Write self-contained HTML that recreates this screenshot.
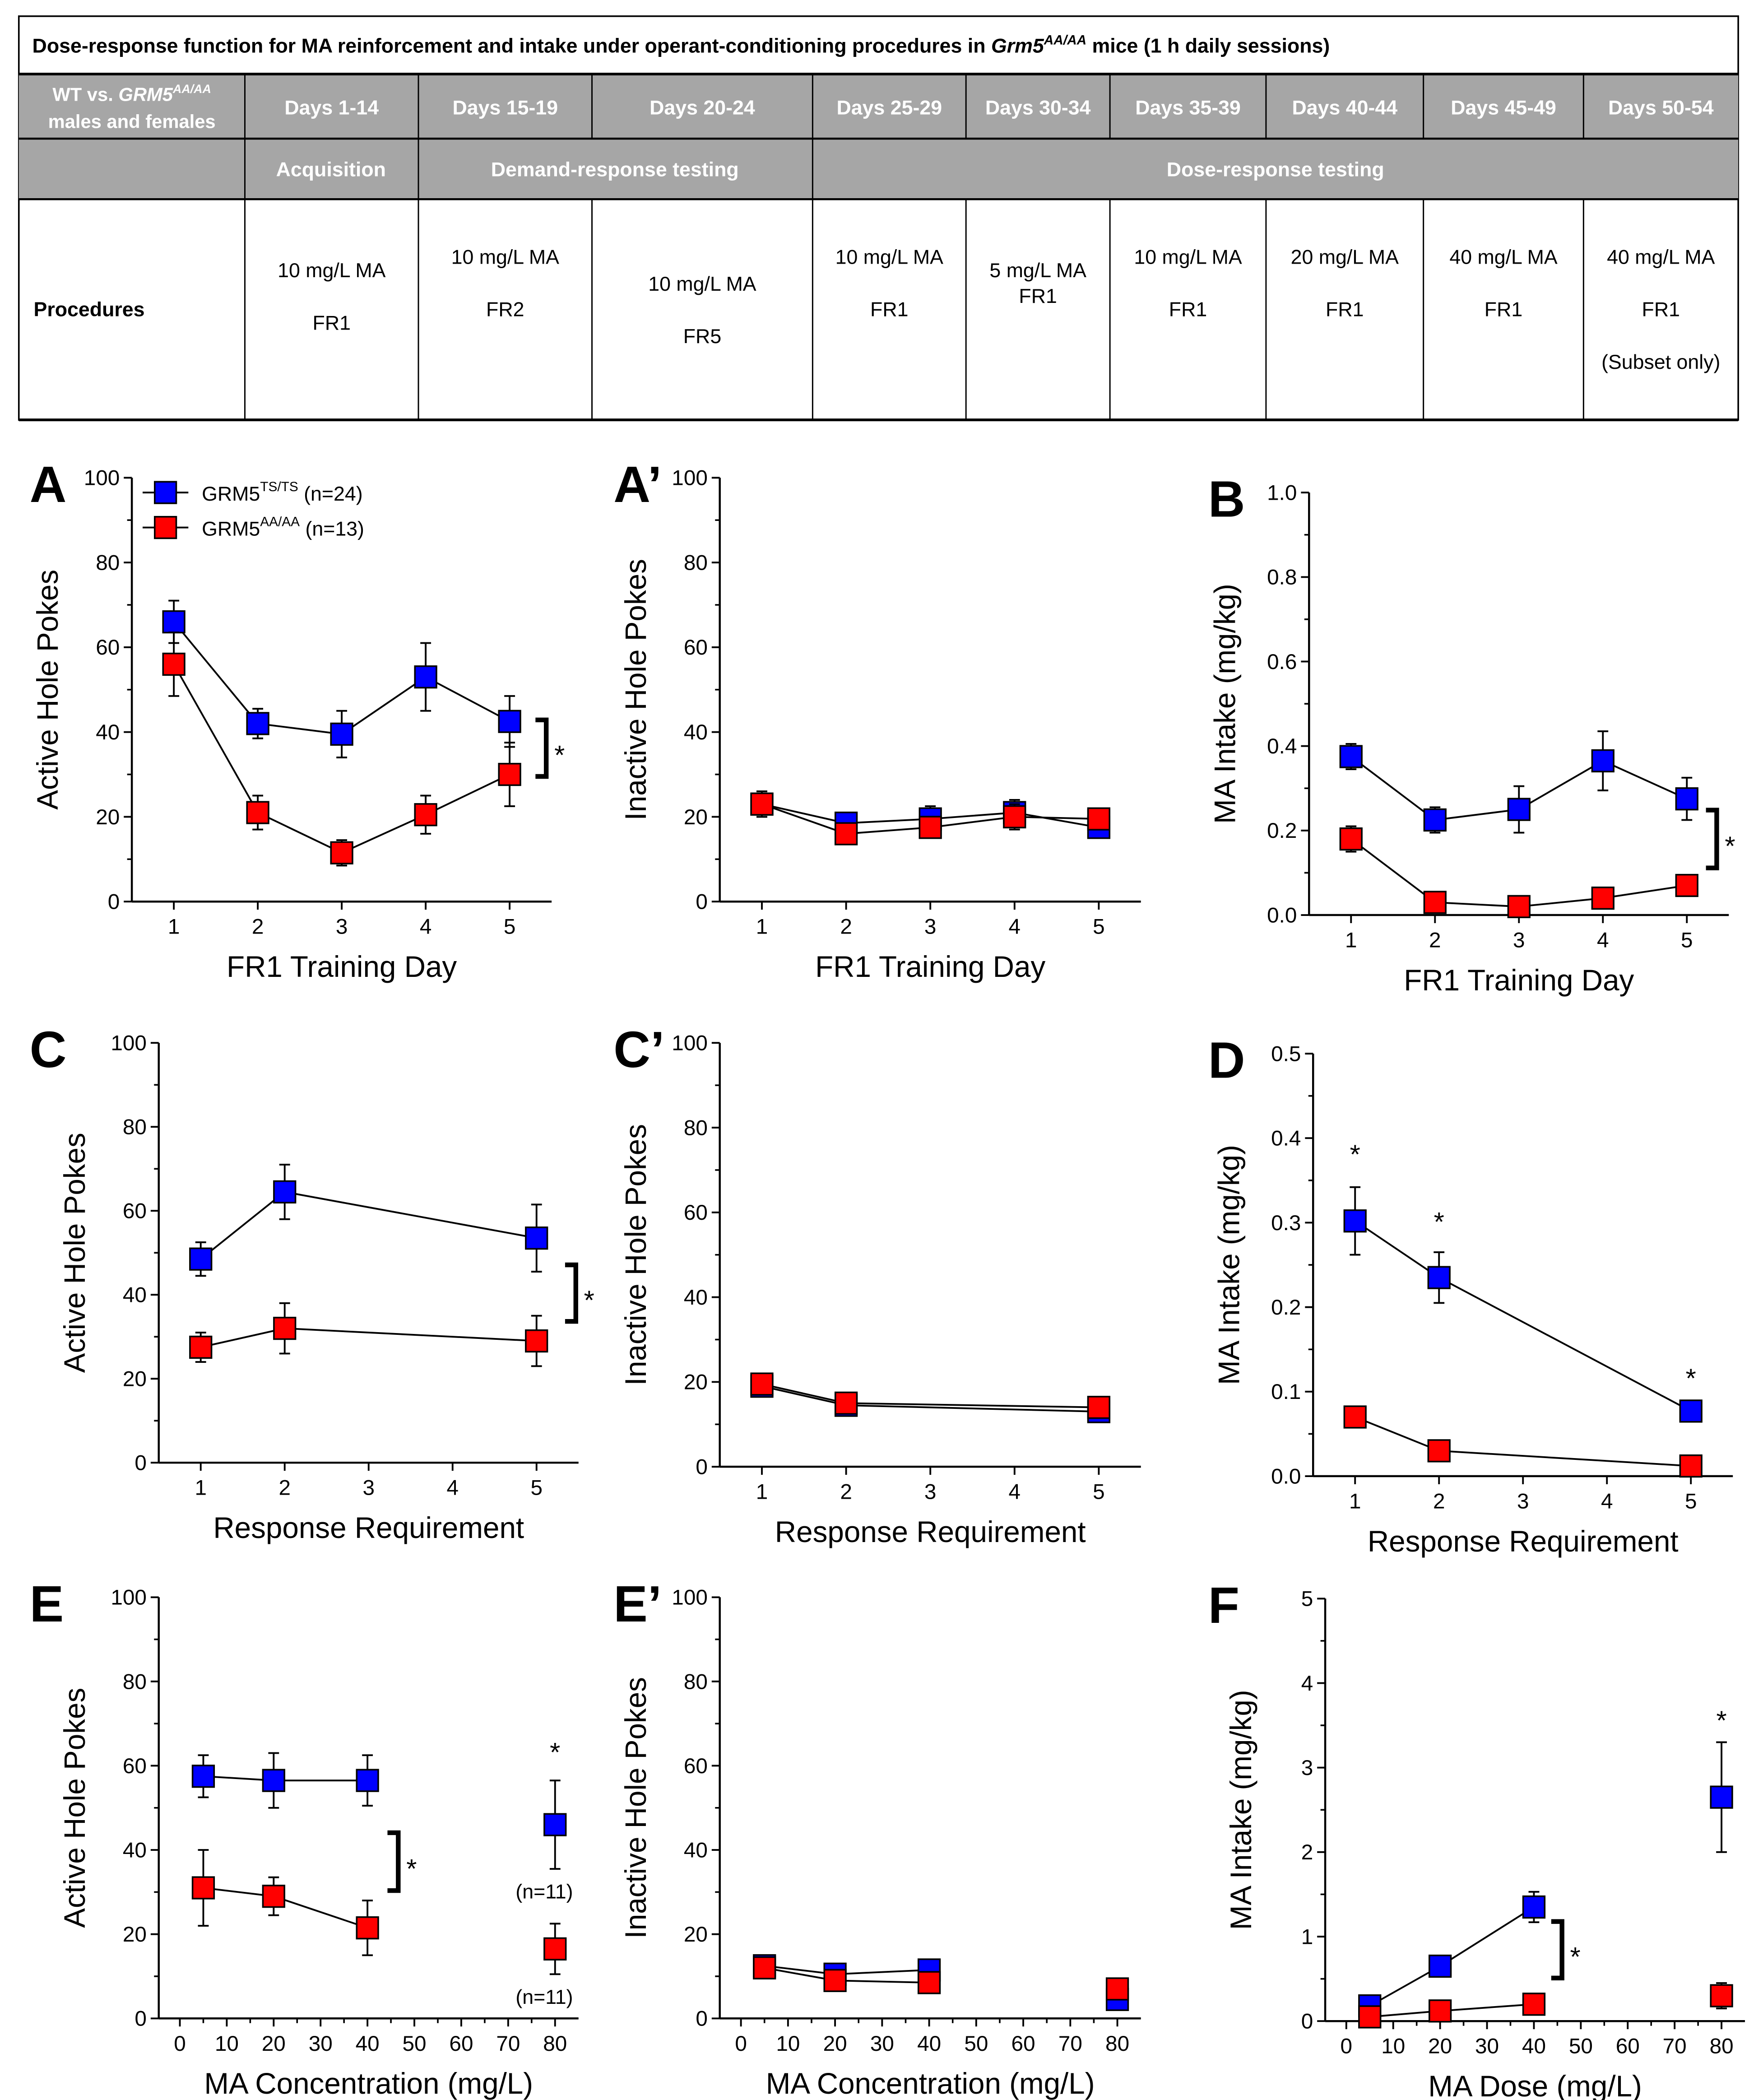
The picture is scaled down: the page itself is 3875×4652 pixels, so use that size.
<!DOCTYPE html>
<html><head><meta charset="utf-8"><style>
html,body{margin:0;padding:0;background:#fff}
svg{display:block}
text{font-family:"Liberation Sans",Arial,sans-serif}
</style></head><body>
<svg id="root" width="3875" height="4652" viewBox="0 0 1300 1560.6" xmlns="http://www.w3.org/2000/svg">
<g id="table"></g>
<g id="charts"></g>
</svg>
<script>
// ---- Data ----
const daysX = [1,2,3,4,5];
const A_blue = [66,42,39.5,53,42.5];
const A_blueErr = [5,3.5,5.5,8,6];
const A_red = [56,21,11.5,20.5,30];
const A_redErr = [7.5,4,3,4.5,7.5];
const Ap_blue = [23,18.5,19.5,21,17.5];
const Ap_blueErr = [3,2,3,3,2.5];
const Ap_red = [23,16,17.5,20,19.5];
const Ap_redErr = [3,2,2,3,2.5];
const B_blue = [0.375,0.225,0.25,0.365,0.275];
const B_blueErr = [0.03,0.03,0.055,0.07,0.05];
const B_red = [0.18,0.03,0.02,0.04,0.07];
const B_redErr = [0.03,0.02,0.02,0.02,0.025];
const reqX = [1,2,5];
const C_blue = [48.5,64.5,53.5];
const C_blueErr = [4,6.5,8];
const C_red = [27.5,32,29];
const C_redErr = [3.5,6,6];
const Cp_blue = [19,14.5,13];
const Cp_blueErr = [2,1.5,1.5];
const Cp_red = [19.5,15,14];
const Cp_redErr = [2,2,2];
const D_blue = [0.302,0.235,0.077];
const D_blueErr = [0.04,0.03,0.01];
const D_red = [0.07,0.03,0.012];
const D_redErr = [0.007,0.005,0.01];
const concX = [5,20,40,80];
const E_blue = [57.5,56.5,56.5,46];
const E_blueErr = [5,6.5,6,10.5];
const E_red = [31,29,21.5,16.5];
const E_redErr = [9,4.5,6.5,6];
const Ep_blue = [12.5,10.5,11.5,4.5];
const Ep_blueErr = [1.5,1.5,2,1];
const Ep_red = [12,9,8.5,7];
const Ep_redErr = [1.5,1.5,2,2.5];
const F_blue = [0.18,0.65,1.35,2.65];
const F_blueErr = [0.1,0.08,0.18,0.65];
const F_red = [0.05,0.12,0.2,0.3];
const F_redErr = [0.05,0.05,0.05,0.15];

const NS='http://www.w3.org/2000/svg';
function mk(parent,tag,attrs,txt){const e=document.createElementNS(NS,tag);for(const k in attrs)e.setAttribute(k,attrs[k]);if(txt!==undefined)e.textContent=txt;parent.appendChild(e);return e;}

// ---- Table ----
const T=document.getElementById('table');
const colX=[14,182,311,440,604,718,825,941,1058,1177,1292];
mk(T,'rect',{x:14,y:12,width:1278,height:300,fill:'#fff',stroke:'#000','stroke-width':1.2});
mk(T,'rect',{x:14,y:55,width:1278,height:93,fill:'#a6a6a6'});
let tt=mk(T,'text',{x:24,y:39,'font-size':15,'font-weight':'bold'});


tt.innerHTML='Dose-response function for MA reinforcement and intake under operant-conditioning procedures in <tspan font-style="italic">Grm5</tspan><tspan font-style="italic" font-size="10" dy="-6">AA/AA</tspan><tspan dy="6"> mice (1 h daily sessions)</tspan>';
[55,103,148].forEach(y=>mk(T,'line',{x1:14,x2:1292,y1:y,y2:y,stroke:'#000','stroke-width':y===55?2:1.5}));
mk(T,'line',{x1:14,x2:1292,y1:312,y2:312,stroke:'#000','stroke-width':2});
// verticals
colX.forEach((x,i)=>{ if(i===0||i===colX.length-1)return;
  mk(T,'line',{x1:x,x2:x,y1:55,y2:103,stroke:'#000','stroke-width':1});
  if([1,2,4].includes(i)) mk(T,'line',{x1:x,x2:x,y1:103,y2:148,stroke:'#000','stroke-width':1});
  mk(T,'line',{x1:x,x2:x,y1:148,y2:312,stroke:'#000','stroke-width':1});
});
const dayLabels=['Days 1-14','Days 15-19','Days 20-24','Days 25-29','Days 30-34','Days 35-39','Days 40-44','Days 45-49','Days 50-54'];
dayLabels.forEach((d,i)=>{const cx=(colX[i+1]+colX[i+2])/2;
  const e=mk(T,'text',{x:cx,y:85,'font-size':15,'font-weight':'bold',fill:'#fff','text-anchor':'middle'},d);
  
  });
let g1=mk(T,'text',{x:98,y:75,'font-size':14,'font-weight':'bold',fill:'#fff','text-anchor':'middle'});
g1.innerHTML='WT vs. <tspan font-style="italic">GRM5</tspan><tspan font-style="italic" font-size="9" dy="-6">AA/AA</tspan>';
mk(T,'text',{x:98,y:95,'font-size':14,'font-weight':'bold',fill:'#fff','text-anchor':'middle'},'males and females');
[['Acquisition',246],['Demand-response testing',457],['Dose-response testing',948]].forEach(p=>{
  const e=mk(T,'text',{x:p[1],y:131,'font-size':15,'font-weight':'bold',fill:'#fff','text-anchor':'middle'},p[0]);
  
  });
mk(T,'text',{x:25,y:235,'font-size':15,'font-weight':'bold'},'Procedures');
const procs=[[['10 mg/L MA',206],['FR1',245]],[['10 mg/L MA',196],['FR2',235]],[['10 mg/L MA',216],['FR5',255]],
 [['10 mg/L MA',196],['FR1',235]],[['5 mg/L MA',206],['FR1',225]],[['10 mg/L MA',196],['FR1',235]],
 [['20 mg/L MA',196],['FR1',235]],[['40 mg/L MA',196],['FR1',235]],[['40 mg/L MA',196],['FR1',235],['(Subset only)',274]]];
procs.forEach((lines,i)=>{const cx=(colX[i+1]+colX[i+2])/2;lines.forEach(l=>{
  const e=mk(T,'text',{x:cx,y:l[1],'font-size':15,'text-anchor':'middle'},l[0]);
  
  });});

// ---- Charts ----
const C=document.getElementById('charts');
function panel(o){
  const g=mk(C,'g',{});
  
  
  const sx=v=>o.L+(v-o.xmin)/(o.xmax-o.xmin)*(o.R-o.L);
  const sy=v=>o.B-(v-o.ymin)/(o.ymax-o.ymin)*(o.B-o.T);
  mk(g,'line',{x1:o.L,x2:o.L,y1:o.T,y2:o.B,stroke:'#000','stroke-width':1.5});
  mk(g,'line',{x1:o.L,x2:o.R,y1:o.B,y2:o.B,stroke:'#000','stroke-width':1.5});
  o.yt.forEach((v,i)=>{const y=sy(v);mk(g,'line',{x1:o.L-6,x2:o.L,y1:y,y2:y,stroke:'#000','stroke-width':1.3});
    const t=mk(g,'text',{x:o.L-9,y:y+5.5,'font-size':16,'text-anchor':'end'},o.ytl[i]);
    
    
    if(i<o.yt.length-1){const m=sy((v+o.yt[i+1])/2);mk(g,'line',{x1:o.L-3.5,x2:o.L,y1:m,y2:m,stroke:'#000','stroke-width':1.2});}});
  o.xt.forEach((v,i)=>{const x=sx(v);mk(g,'line',{x1:x,x2:x,y1:o.B,y2:o.B+6,stroke:'#000','stroke-width':1.3});
    const t=mk(g,'text',{x:x,y:o.B+24,'font-size':16,'text-anchor':'middle'},o.xtl[i]);
    
    
    if(o.xminor&&i<o.xt.length-1){const m=sx((v+o.xt[i+1])/2);mk(g,'line',{x1:m,x2:m,y1:o.B,y2:o.B+3.5,stroke:'#000','stroke-width':1.2});}});
  const xt=mk(g,'text',{x:(o.L+o.R)/2,y:o.B+56,'font-size':22,'text-anchor':'middle'},o.xtitle);
  
  
  const yc=(o.T+o.B)/2;
  const yt=mk(g,'text',{x:0,y:0,'font-size':22,'text-anchor':'middle',transform:`translate(${o.L-55},${yc}) rotate(-90)`},o.ytitle);
  
  
  const lb=mk(g,'text',{x:o.labX,y:o.T+18,'font-size':38,'font-weight':'bold'},o.label);
  
  
  const series=[[o.blue,o.blueErr,'#0000ff','blue'],[o.red,o.redErr,'#ff0000','red']];
  series.forEach(s=>{
    const n=o.nLine||o.x.length;
    const pts=o.x.slice(0,n).map((x,i)=>sx(x)+','+sy(s[0][i])).join(' ');
    const pl=mk(g,'polyline',{points:pts,fill:'none',stroke:'#000','stroke-width':1.3});
    
    
  });
  series.forEach(s=>{
    o.x.forEach((xv,i)=>{const x=sx(xv),y=sy(s[0][i]),e=s[1][i];
      const y1=sy(s[0][i]+e),y2=sy(s[0][i]-e);
      mk(g,'line',{x1:x,x2:x,y1:y1,y2:y2,stroke:'#000','stroke-width':1.3});
      mk(g,'line',{x1:x-4,x2:x+4,y1:y1,y2:y1,stroke:'#000','stroke-width':1.3});
      mk(g,'line',{x1:x-4,x2:x+4,y1:y2,y2:y2,stroke:'#000','stroke-width':1.3});
      const r=mk(g,'rect',{x:x-8,y:y-8,width:16,height:16,fill:s[2],stroke:'#000','stroke-width':1.2});
      
      
    });
  });
  if(o.br){const b=o.br;const p=mk(g,'path',{d:`M${b[0]},${b[1]} H${b[0]+8} V${b[2]} H${b[0]}`,fill:'none',stroke:'#000','stroke-width':3.5});
    
    
    const st=mk(g,'text',{x:b[0]+14,y:(b[1]+b[2])/2+12,'font-size':20},'*');
    
    }
  (o.stars||[]).forEach(s=>{const st=mk(g,'text',{x:sx(s[0]),y:sy(s[1]),'font-size':20,'text-anchor':'middle'},'*');
    
    });
  return {g,sx,sy};
}
const t100=[0,20,40,60,80,100],t100l=t100.map(String);
const t1=[0,0.2,0.4,0.6,0.8,1.0],t1l=t1.map(v=>v.toFixed(1));
const t05=[0,0.1,0.2,0.3,0.4,0.5],t05l=t05.map(v=>v.toFixed(1));
const t5=[0,1,2,3,4,5],t5l=t5.map(String);
const d5=[1,2,3,4,5],d5l=d5.map(String);
const c80=[0,10,20,30,40,50,60,70,80],c80l=c80.map(String);

const pA=panel({name:'A',label:'A',labX:22,L:98,R:410,T:355,B:670,xmin:0.5,xmax:5.5,ymin:0,ymax:100,yt:t100,ytl:t100l,xt:d5,xtl:d5l,x:daysX,blue:A_blue,blueErr:A_blueErr,red:A_red,redErr:A_redErr,xtitle:'FR1 Training Day',ytitle:'Active Hole Pokes',br:[398,535,577]});
panel({name:'A-prime',label:'A’',labX:456,L:535,R:848,T:355,B:670,xmin:0.5,xmax:5.5,ymin:0,ymax:100,yt:t100,ytl:t100l,xt:d5,xtl:d5l,x:daysX,blue:Ap_blue,blueErr:Ap_blueErr,red:Ap_red,redErr:Ap_redErr,xtitle:'FR1 Training Day',ytitle:'Inactive Hole Pokes'});
panel({name:'B',label:'B',labX:898,L:973,R:1285,T:366,B:680,xmin:0.5,xmax:5.5,ymin:0,ymax:1,yt:t1,ytl:t1l,xt:d5,xtl:d5l,x:daysX,blue:B_blue,blueErr:B_blueErr,red:B_red,redErr:B_redErr,xtitle:'FR1 Training Day',ytitle:'MA Intake (mg/kg)',br:[1268,602,645]});
panel({name:'C',label:'C',labX:22,L:118,R:430,T:775,B:1087,xmin:0.5,xmax:5.5,ymin:0,ymax:100,yt:t100,ytl:t100l,xt:d5,xtl:d5l,x:reqX,blue:C_blue,blueErr:C_blueErr,red:C_red,redErr:C_redErr,xtitle:'Response Requirement',ytitle:'Active Hole Pokes',br:[420,940,982]});
panel({name:'C-prime',label:'C’',labX:456,L:535,R:848,T:775,B:1090,xmin:0.5,xmax:5.5,ymin:0,ymax:100,yt:t100,ytl:t100l,xt:d5,xtl:d5l,x:reqX,blue:Cp_blue,blueErr:Cp_blueErr,red:Cp_red,redErr:Cp_redErr,xtitle:'Response Requirement',ytitle:'Inactive Hole Pokes'});
panel({name:'D',label:'D',labX:898,L:976,R:1288,T:783,B:1097,xmin:0.5,xmax:5.5,ymin:0,ymax:0.5,yt:t05,ytl:t05l,xt:d5,xtl:d5l,x:reqX,blue:D_blue,blueErr:D_blueErr,red:D_red,redErr:D_redErr,xtitle:'Response Requirement',ytitle:'MA Intake (mg/kg)',stars:[[1,0.37],[2,0.29],[5,0.105]]});
const pE=panel({name:'E',label:'E',labX:22,L:118,R:430,T:1187,B:1500,xmin:-4.5,xmax:85,ymin:0,ymax:100,yt:t100,ytl:t100l,xt:c80,xtl:c80l,xminor:true,x:concX,nLine:3,blue:E_blue,blueErr:E_blueErr,red:E_red,redErr:E_redErr,xtitle:'MA Concentration (mg/L)',ytitle:'Active Hole Pokes',br:[288,1362,1405],stars:[[80,61]]});
panel({name:'E-prime',label:'E’',labX:456,L:535,R:848,T:1187,B:1500,xmin:-4.5,xmax:85,ymin:0,ymax:100,yt:t100,ytl:t100l,xt:c80,xtl:c80l,xminor:true,x:concX,nLine:3,blue:Ep_blue,blueErr:Ep_blueErr,red:Ep_red,redErr:Ep_redErr,xtitle:'MA Concentration (mg/L)',ytitle:'Inactive Hole Pokes'});
panel({name:'F',label:'F',labX:898,L:985,R:1297,T:1188,B:1502,xmin:-4.5,xmax:85,ymin:0,ymax:5,yt:t5,ytl:t5l,xt:c80,xtl:c80l,xminor:true,x:concX,nLine:3,blue:F_blue,blueErr:F_blueErr,red:F_red,redErr:F_redErr,xtitle:'MA Dose (mg/L)',ytitle:'MA Intake (mg/kg)',br:[1153,1428,1470],stars:[[80,3.45]]});

// n labels in E
[[pE.sy(E_blue[3]-E_blueErr[3])+22],[pE.sy(E_red[3]-E_redErr[3])+22]].forEach(p=>{
  const t=mk(pE.g,'text',{x:pE.sx(80)-8,y:p[0],'font-size':15,'text-anchor':'middle'},'(n=11)');
  
  });

// Legend in A
const lg=mk(pA.g,'g',{});


[['#0000ff','TS/TS','(n=24)',366],['#ff0000','AA/AA','(n=13)',392]].forEach(l=>{
  mk(lg,'line',{x1:106,x2:140,y1:l[3],y2:l[3],stroke:'#000','stroke-width':1.3});
  mk(lg,'rect',{x:115,y:l[3]-8,width:16,height:16,fill:l[0],stroke:'#000','stroke-width':1.2});
  const t=mk(lg,'text',{x:150,y:l[3]+6,'font-size':15});
  
  
  t.innerHTML='GRM5<tspan font-size="10" dy="-7">'+l[1]+'</tspan><tspan dy="7"> '+l[2]+'</tspan>';
});
</script>
</body></html>
